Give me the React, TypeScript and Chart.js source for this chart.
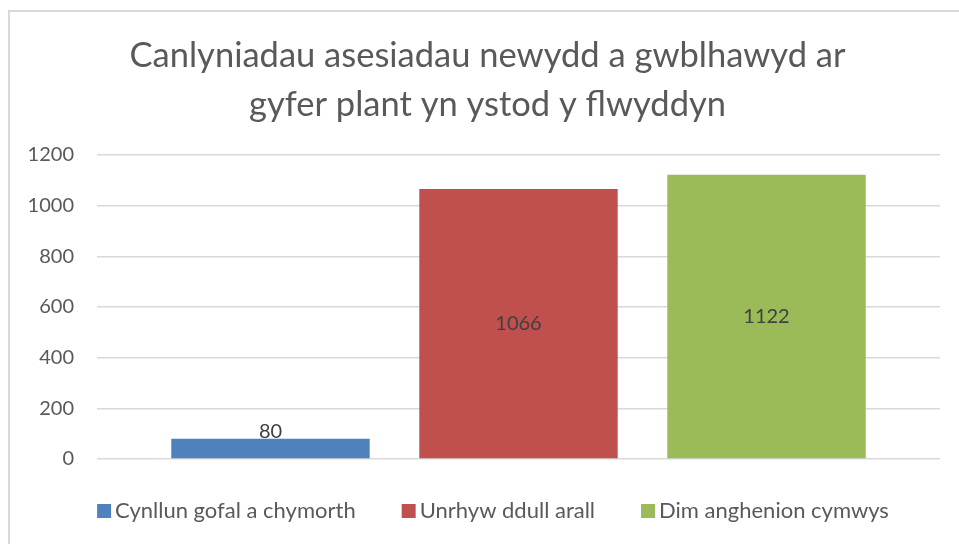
import React, { useEffect, useRef } from "react";
import { Chart, registerables } from "chart.js";

Chart.register(...registerables);

const titleLines = ["Canlyniadau asesiadau newydd a gwblhawyd ar", "gyfer plant yn ystod y flwyddyn"];
const categories = [""];
const seriesNames = ["Cynllun gofal a chymorth", "Unrhyw ddull arall", "Dim anghenion cymwys"];
const seriesValues = [80, 1066, 1122];
const seriesColors = ["#4f81bd", "#c0504d", "#9bbb59"];
const yTicks = [0, 200, 400, 600, 800, 1000, 1200];

const FONT = "Lato, 'Open Sans', sans-serif";

const dataLabels = {
  id: "dataLabels",
  afterDatasetsDraw(chart: any) {
    const ctx = chart.ctx;
    ctx.save();
    ctx.font = `20px ${FONT}`;
    ctx.fillStyle = "#404040";
    ctx.textAlign = "center";
    ctx.textBaseline = "middle";
    chart.data.datasets.forEach((ds: any, i: number) => {
      const meta = chart.getDatasetMeta(i);
      meta.data.forEach((el: any, j: number) => {
        const mid = (el.y + el.base) / 2;
        const y = Math.min(mid, el.base - 27);
        ctx.fillText(String(ds.data[j]), el.x, y);
      });
    });
    ctx.restore();
  },
};

const customTitle = {
  id: "customTitle",
  afterDraw(chart: any) {
    const ctx = chart.ctx;
    ctx.save();
    ctx.font = `34.5px ${FONT}`;
    ctx.fillStyle = "#595959";
    ctx.textAlign = "center";
    ctx.textBaseline = "middle";
    const cx = chart.width / 2 - 0.5;
    titleLines.forEach((line, i) => {
      ctx.fillText(line, cx, 44 + i * 49);
    });
    ctx.restore();
  },
};

const customLegend = {
  id: "customLegend",
  afterDraw(chart: any) {
    const ctx = chart.ctx;
    ctx.save();
    ctx.font = `22px ${FONT}`;
    ctx.textBaseline = "middle";
    ctx.textAlign = "left";
    const box = 14;
    const gap = 4;
    const spacing = 46;
    const widths = chart.data.datasets.map((ds: any) => ctx.measureText(ds.label).width);
    const total = widths.reduce((a: number, w: number) => a + box + gap + w, 0) + spacing * (widths.length - 1);
    let x = chart.width / 2 + 5 - total / 2;
    const y = chart.chartArea.bottom + 52;
    chart.data.datasets.forEach((ds: any, i: number) => {
      ctx.fillStyle = ds.backgroundColor;
      ctx.fillRect(x, y - box / 2, box, box);
      ctx.fillStyle = "#595959";
      ctx.fillText(ds.label, x + box + gap, y);
      x += box + gap + widths[i] + spacing;
    });
    ctx.restore();
  },
};

export default function App() {
  const ref = useRef<HTMLCanvasElement>(null);
  useEffect(() => {
    if (!ref.current) return;
    const chart = new Chart(ref.current, {
      type: "bar",
      data: {
        labels: categories,
        datasets: seriesNames.map((name, i) => ({
          label: name,
          data: [seriesValues[i]],
          backgroundColor: seriesColors[i],
          borderWidth: 0,
          categoryPercentage: 0.8826,
          barPercentage: 0.8,
        })),
      },
      options: {
        responsive: false,
        animation: false,
        layout: { padding: { left: 0, right: 26, top: 143, bottom: 85 } },
        plugins: {
          title: { display: false },
          legend: { display: false },
          tooltip: { enabled: false },
        },
        scales: {
          x: { display: false },
          y: {
            min: 0,
            max: 1200,
            afterBuildTicks(scale: any) {
              scale.ticks = yTicks.map((v) => ({ value: v }));
            },
            afterFit(scale: any) {
              scale.width = 87;
            },
            border: { display: false },
            grid: { color: "#d9d9d9", lineWidth: 1.5, drawTicks: false },
            ticks: {
              color: "#595959",
              font: { family: FONT, size: 20 },
              padding: 23,
              callback: (v: any) => String(v),
            },
          },
        },
      },
      plugins: [dataLabels, customTitle, customLegend],
    });
    return () => chart.destroy();
  }, []);

  return (
    <div style={{ position: "fixed", left: 0, top: 0, width: 959, height: 544, overflow: "hidden", background: "#fff" }}>
      <div
        style={{
          position: "absolute",
          left: 8,
          top: 10,
          width: 990,
          height: 580,
          border: "2px solid #d9d9d9",
          boxSizing: "border-box",
        }}
      />
      <canvas
        ref={ref}
        width={956}
        height={532}
        style={{ position: "absolute", left: 10, top: 12, width: 956, height: 532 }}
      />
    </div>
  );
}
